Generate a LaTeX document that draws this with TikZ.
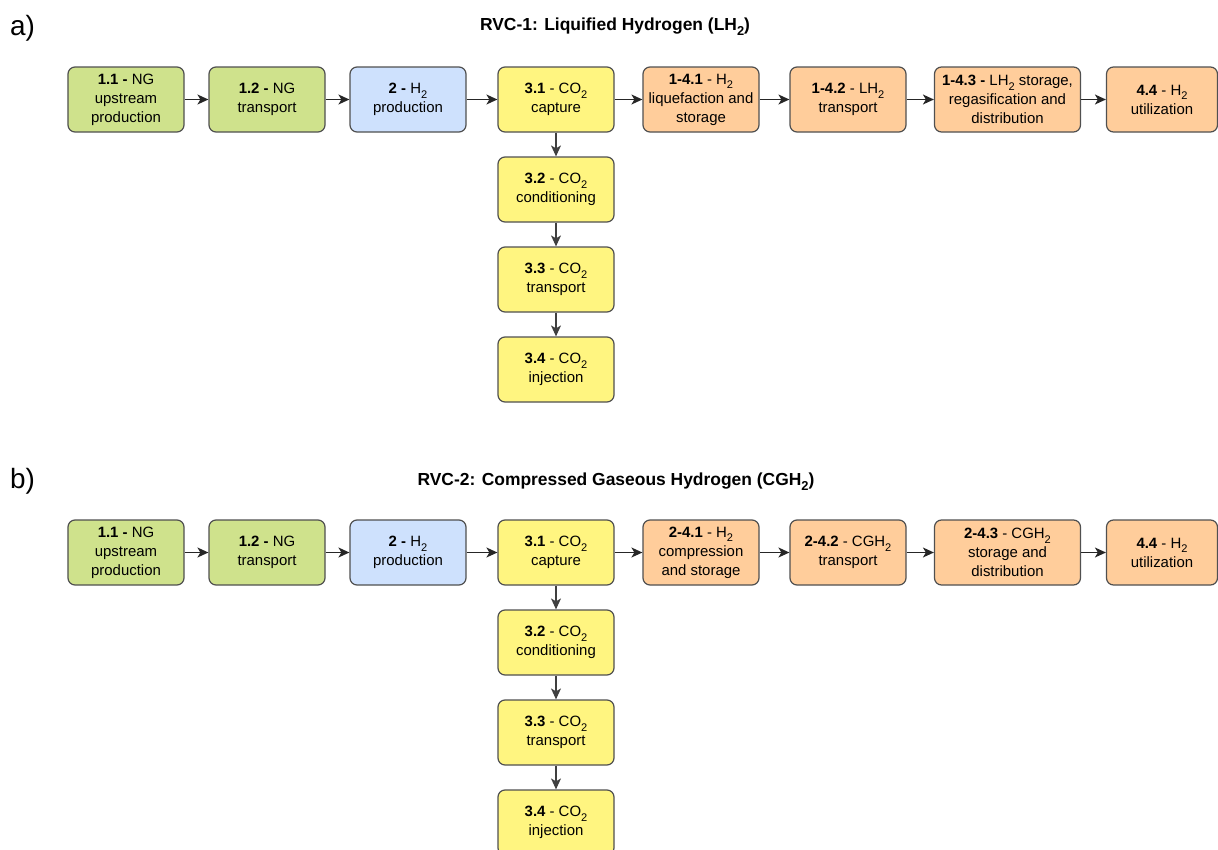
\documentclass[tikz,border=0pt]{standalone}
\usepackage{fontspec}
\setmainfont{Liberation Sans}
\usetikzlibrary{arrows.meta}
\definecolor{fgreen}{RGB}{207,226,140}
\definecolor{fblue}{RGB}{206,225,253}
\definecolor{fyellow}{RGB}{255,245,128}
\definecolor{forange}{RGB}{255,205,155}
\definecolor{bordergray}{RGB}{80,80,80}
\definecolor{vgray}{RGB}{64,64,64}
\newcommand{\sub}[1]{\raisebox{-0.3em}{\scalebox{0.74}{#1}}}
\tikzset{
  stagebox/.style={draw=bordergray, line width=1.2bp, rounded corners=7bp,
    minimum height=65bp, minimum width=116bp, align=center, inner sep=1bp,
    font=\fontsize{15}{19}\selectfont},
  greenbox/.style={stagebox, fill=fgreen},
  bluebox/.style={stagebox, fill=fblue},
  yellowbox/.style={stagebox, fill=fyellow},
  orangebox/.style={stagebox, fill=forange},
  harrow/.style={-{Stealth[length=11bp,width=10bp,inset=3bp]}, line width=1.4bp, draw=black!85},
  varrow/.style={-{Stealth[length=11bp,width=10bp,inset=3bp]}, line width=1.2bp, draw=vgray},
  paneltag/.style={font=\fontsize{28}{30}\selectfont, anchor=base west, inner sep=0},
  paneltitle/.style={font=\fontsize{17.5}{20}\selectfont\bfseries, anchor=base, inner sep=0}
}
\begin{document}
\begin{tikzpicture}[x=1bp, y=-1bp]
\useasboundingbox (0,0) rectangle (1218,850);
% ---------- panel a ----------
\node[paneltag] (taga) at (10,35) {a)};
\node[paneltitle] (titlea) at (615,30) {RVC-1: Liquified Hydrogen (LH\sub{2})};
\node[greenbox] (a11) at (126,99.5) {\textbf{1.1 -} NG\\upstream\\production};
\node[greenbox] (a12) at (267,99.5) {\textbf{1.2 -} NG\\transport};
\node[bluebox] (a2) at (408,99.5) {\textbf{2 -} H\sub{2}\\production};
\node[yellowbox] (a31) at (556,99.5) {\textbf{3.1} - CO\sub{2}\\capture};
\node[orangebox] (a41) at (701,99.5) {\textbf{1-4.1} - H\sub{2}\\liquefaction and\\storage};
\node[orangebox] (a42) at (848,99.5) {\textbf{1-4.2} - LH\sub{2}\\transport};
\node[orangebox, minimum width=146bp] (a43) at (1007.5,99.5) {\textbf{1-4.3 -} LH\sub{2} storage,\\regasification and\\distribution};
\node[orangebox, minimum width=111bp] (a44) at (1162,99.5) {\textbf{4.4} - H\sub{2}\\utilization};
\node[yellowbox] (a32) at (556,189.5) {\textbf{3.2} - CO\sub{2}\\conditioning};
\node[yellowbox] (a33) at (556,279.5) {\textbf{3.3} - CO\sub{2}\\transport};
\node[yellowbox] (a34) at (556,369.5) {\textbf{3.4} - CO\sub{2}\\injection};
\draw[harrow] (a11) -- (a12);
\draw[harrow] (a12) -- (a2);
\draw[harrow] (a2) -- (a31);
\draw[harrow] (a31) -- (a41);
\draw[harrow] (a41) -- (a42);
\draw[harrow] (a42) -- (a43);
\draw[harrow] (a43) -- (a44);
\draw[varrow] (a31) -- (a32);
\draw[varrow] (a32) -- (a33);
\draw[varrow] (a33) -- (a34);
% ---------- panel b ----------
\node[paneltag] (tagb) at (10,488) {b)};
\node[paneltitle] (titleb) at (616,485) {RVC-2: Compressed Gaseous Hydrogen (CGH\sub{2})};
\node[greenbox] (b11) at (126,552.5) {\textbf{1.1 -} NG\\upstream\\production};
\node[greenbox] (b12) at (267,552.5) {\textbf{1.2 -} NG\\transport};
\node[bluebox] (b2) at (408,552.5) {\textbf{2 -} H\sub{2}\\production};
\node[yellowbox] (b31) at (556,552.5) {\textbf{3.1} - CO\sub{2}\\capture};
\node[orangebox] (b41) at (701,552.5) {\textbf{2-4.1} - H\sub{2}\\compression\\and storage};
\node[orangebox] (b42) at (848,552.5) {\textbf{2-4.2} - CGH\sub{2}\\transport};
\node[orangebox, minimum width=146bp] (b43) at (1007.5,552.5) {\textbf{2-4.3} - CGH\sub{2}\\storage and\\distribution};
\node[orangebox, minimum width=111bp] (b44) at (1162,552.5) {\textbf{4.4} - H\sub{2}\\utilization};
\node[yellowbox] (b32) at (556,642.5) {\textbf{3.2} - CO\sub{2}\\conditioning};
\node[yellowbox] (b33) at (556,732.5) {\textbf{3.3} - CO\sub{2}\\transport};
\node[yellowbox] (b34) at (556,822.5) {\textbf{3.4} - CO\sub{2}\\injection};
\draw[harrow] (b11) -- (b12);
\draw[harrow] (b12) -- (b2);
\draw[harrow] (b2) -- (b31);
\draw[harrow] (b31) -- (b41);
\draw[harrow] (b41) -- (b42);
\draw[harrow] (b42) -- (b43);
\draw[harrow] (b43) -- (b44);
\draw[varrow] (b31) -- (b32);
\draw[varrow] (b32) -- (b33);
\draw[varrow] (b33) -- (b34);
\end{tikzpicture}
\end{document}
